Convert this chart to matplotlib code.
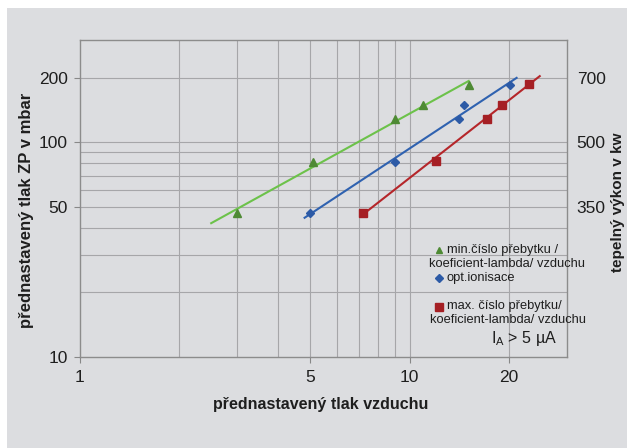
import numpy as np
import matplotlib
matplotlib.use("Agg")
import matplotlib.pyplot as plt
from matplotlib.lines import Line2D
from matplotlib.patches import Rectangle
from matplotlib.ticker import FixedLocator, NullLocator, NullFormatter

# data
min_x = [3.0, 5.1, 9.05, 11.0, 15.1]
min_y = [47, 81, 128, 149, 186]
opt_x = [5.0, 9.0, 14.1, 14.6, 20.1]
opt_y = [47, 81, 128, 150, 186]
max_x = [7.2, 12.0, 17.1, 19.0, 23.0]
max_y = [47, 82, 129, 150, 188]

# extent of the power trendlines
min_range = [2.5, 15.1]
opt_range = [4.8, 21.1]
max_range = [7.2, 24.8]

left_ticks = [10, 50, 100, 200]
right_ticks = [50, 100, 200]
right_labels = ["350", "500", "700"]

plt.rcParams["font.family"] = ["Liberation Sans", "DejaVu Sans"]
bg = "#dcdde0"

fig = plt.figure(figsize=(6.27, 4.48), dpi=100)
fig.patch.set_facecolor("white")
fig.add_artist(Rectangle((7 / 627, 0), 1, 1 - 8 / 448, transform=fig.transFigure,
                         facecolor=bg, edgecolor="none", zorder=-10))

ax = fig.add_axes([80 / 627, 1 - 357 / 448, 487 / 627, 317 / 448])
ax.set_facecolor(bg)
ax.set_xscale("log")
ax.set_yscale("log")
ax.set_xlim(1, 30)
ax.set_ylim(10, 300)

# grid like the excel original
for v in [2, 3, 4, 5, 6, 7, 8, 9, 10, 20]:
    ax.axvline(v, color="#a6a6a9", lw=0.8, zorder=0)
for v in [20, 30, 40, 50, 60, 70, 80, 90, 100, 200]:
    ax.axhline(v, color="#a6a6a9", lw=0.8, zorder=0)

def trend(xs, ys, rng):
    k, q = np.polyfit(np.log10(xs), np.log10(ys), 1)
    xx = np.array(rng)
    return xx, 10 ** (q + k * np.log10(xx))

xx, yy = trend(min_x, min_y, min_range)
ax.plot(xx, yy, color="#6cc24a", lw=1.5, zorder=3)
ax.plot(min_x, min_y, "^", color="#4e8a34", ms=6, zorder=4)
xx, yy = trend(opt_x, opt_y, opt_range)
ax.plot(xx, yy, color="#2f62b0", lw=1.5, zorder=3)
ax.plot(opt_x, opt_y, "D", color="#2c5aa6", ms=4.5, zorder=4)
xx, yy = trend(max_x, max_y, max_range)
ax.plot(xx, yy, color="#b5262a", lw=1.5, zorder=3)
ax.plot(max_x, max_y, "s", color="#a51f24", ms=6, zorder=4)

ax.xaxis.set_major_locator(FixedLocator([1, 5, 10, 20]))
ax.xaxis.set_major_formatter(plt.FixedFormatter(["1", "5", "10", "20"]))
ax.xaxis.set_minor_locator(NullLocator())
ax.yaxis.set_major_locator(FixedLocator(left_ticks))
ax.yaxis.set_major_formatter(plt.FixedFormatter([str(t) for t in left_ticks]))
ax.yaxis.set_minor_locator(NullLocator())
ax.tick_params(axis="both", labelsize=12.5, length=4, color="#888888",
               labelcolor="#1e1e1e", pad=5)
for s in ax.spines.values():
    s.set_color("#8c8c8c")
    s.set_linewidth(1.0)

ax2 = ax.twinx()
ax2.set_yscale("log")
ax2.set_ylim(10, 300)
ax2.yaxis.set_major_locator(FixedLocator(right_ticks))
ax2.yaxis.set_major_formatter(plt.FixedFormatter(right_labels))
ax2.yaxis.set_minor_locator(NullLocator())
ax2.yaxis.set_minor_formatter(NullFormatter())
ax2.tick_params(axis="y", labelsize=12.5, length=0, labelcolor="#1e1e1e", pad=7)
for s in ax2.spines.values():
    s.set_visible(False)

fig.text(321 / 627, 1 - 404 / 448, "přednastavený tlak vzduchu", ha="center",
         va="center", fontsize=11.5, fontweight="bold", color="#1e1e1e")
fig.text(27 / 627, 1 - 210 / 448, "přednastavený tlak ZP v mbar", ha="center",
         va="center", rotation=90, fontsize=12, fontweight="bold", color="#1e1e1e")
fig.text(618 / 627, 1 - 202 / 448, "tepelný výkon v kw", ha="center",
         va="center", rotation=90, fontsize=11, fontweight="bold", color="#1e1e1e")

# legend drawn by hand (centred multi-line entries as in the original)
def fx(px):
    return px / 627

def fy(py):
    return 1 - py / 448

fig.add_artist(Line2D([fx(439)], [fy(250)], marker="^", color="#4e8a34", ms=5,
                      transform=fig.transFigure))
fig.add_artist(Line2D([fx(439)], [fy(278)], marker="D", color="#2c5aa6", ms=4,
                      transform=fig.transFigure))
fig.add_artist(Line2D([fx(439)], [fy(307)], marker="s", color="#a51f24", ms=6,
                      transform=fig.transFigure))
kw = dict(fontsize=9.3, color="#1e1e1e", va="center")
fig.text(fx(447), fy(250), "min.číslo přebytku /", ha="left", **kw)
fig.text(fx(507), fy(264), "koeficient-lambda/ vzduchu", ha="center", **kw)
fig.text(fx(447), fy(278), "opt.ionisace", ha="left", **kw)
fig.text(fx(447), fy(306), "max. číslo přebytku/", ha="left", **kw)
fig.text(fx(508), fy(320), "koeficient-lambda/ vzduchu", ha="center", **kw)
fig.text(fx(491), fy(338), r"I$_\mathregular{A}$ > 5 µA", ha="left",
         fontsize=11.5, color="#1e1e1e", va="center")

fig.savefig("out.png", dpi=100, facecolor=fig.get_facecolor())
